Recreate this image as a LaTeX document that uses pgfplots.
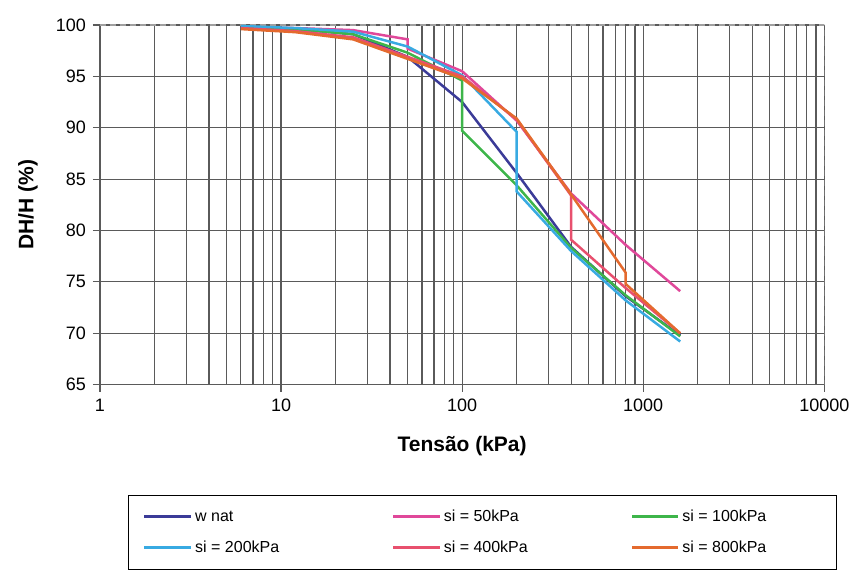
\documentclass[border=0pt]{standalone}
\usepackage{pgfplots}
\pgfplotsset{compat=1.18}
\usepackage{fontspec}
\setmainfont{Liberation Sans}
\definecolor{cnat}{HTML}{3B3B98}
\definecolor{cfifty}{HTML}{E0489A}
\definecolor{chund}{HTML}{3DB54A}
\definecolor{ctwo}{HTML}{38AAE2}
\definecolor{cfour}{HTML}{E8506E}
\definecolor{ceight}{HTML}{E46A2E}
\definecolor{gridc}{HTML}{5A5A5A}
\definecolor{bordc}{HTML}{A0A0A0}
\begin{document}
\begin{tikzpicture}
\begin{semilogxaxis}[
  scale only axis, width=362.5pt, height=180pt,
  at={(0,0)}, anchor=south west,
  xmin=1, xmax=10000, ymin=65, ymax=100,
  xtick={1,10,100,1000,10000},
  xticklabels={1,10,100,1000,10000},
  ytick={65,70,75,80,85,90,95,100},
  /pgf/number format/assume math mode=true,
  tick label style={font=\fontsize{9}{10}\selectfont},
  grid=both,
  major grid style={gridc, line width=0.6pt},
  minor grid style={gridc, line width=0.6pt},
  minor y tick num=0,
  tick align=outside,
  major tick length=3.5pt,
  minor tick length=0pt,
  tick style={gridc, line width=0.6pt},
  axis x line*=bottom, axis y line*=left,
  axis line style={gridc, line width=0.6pt},
  xtick pos=bottom, ytick pos=left,
  xlabel={\textbf{Tensão (kPa)}},
  ylabel={\textbf{DH/H (\%)}},
  label style={font=\fontsize{10.5}{12}\selectfont},
  xlabel style={at={(axis description cs:0.5,-0.172)}, anchor=center},
  ylabel style={at={(axis description cs:-0.0993,0.5)}, anchor=center},
  legend columns=3,
  legend image code/.code={\fill[#1, line width=0.9pt] (0pt,-0.2pt) rectangle (22.5pt,0.2pt);},
  legend cell align=left,
  legend style={at={(axis description cs:0.0386,-0.3056)}, anchor=north west,
    draw=black, line width=0.6pt, inner xsep=8pt, inner ysep=7pt, row sep=8pt,
    font=\fontsize{8}{9}\selectfont,
    nodes={inner xsep=2pt, inner ysep=0pt, text height=6pt, text depth=1.5pt},
    /tikz/every even column/.append style={column sep=30pt}},
  every axis plot/.append style={line width=1.25pt},
]
\draw[bordc, densely dashed, line width=0.6pt] (rel axis cs:0,1) -- (rel axis cs:1,1) -- (rel axis cs:1,0);
\addplot[color=cnat] coordinates {(6,99.8) (12,99.6) (25,99.1) (50,96.9) (100,92.5) (200,85.6) (400,78.4) (800,73.6) (1600,69.8)};
\addlegendentry{\makebox[67pt][l]{w nat}}
\addplot[color=cfifty] coordinates {(6,99.8) (12,99.7) (25,99.5) (50,98.6) (50,97.7) (100,95.5) (200,90.7) (400,83.6) (800,78.6) (1600,74.1)};
\addlegendentry{\makebox[62pt][l]{si = 50kPa}}
\addplot[color=chund] coordinates {(6,99.8) (12,99.6) (25,99.1) (50,97.3) (100,94.6) (100,89.7) (200,84.4) (400,78.3) (800,73.7) (1600,69.7)};
\addlegendentry{\makebox[67pt][l]{si = 100kPa}}
\addplot[color=ctwo] coordinates {(6,99.9) (12,99.7) (25,99.35) (50,97.9) (100,95.1) (200,89.6) (200,83.8) (400,78.0) (800,73.2) (1600,69.2)};
\addlegendentry{\makebox[67pt][l]{si = 200kPa}}
\addplot[color=cfour] coordinates {(6,99.7) (12,99.4) (25,98.8) (50,96.9) (100,95.0) (200,90.8) (400,83.4) (400,79.1) (800,74.4) (1600,70.0)};
\addlegendentry{\makebox[62pt][l]{si = 400kPa}}
\addplot[color=ceight] coordinates {(6,99.6) (12,99.3) (25,98.6) (50,96.7) (100,94.8) (200,90.9) (400,83.5) (800,75.9) (800,74.8) (1600,70.0)};
\addlegendentry{\makebox[67pt][l]{si = 800kPa}}
\end{semilogxaxis}
\path (-50pt,-95.5pt) rectangle (378pt,192.5pt);
\end{tikzpicture}
\end{document}
